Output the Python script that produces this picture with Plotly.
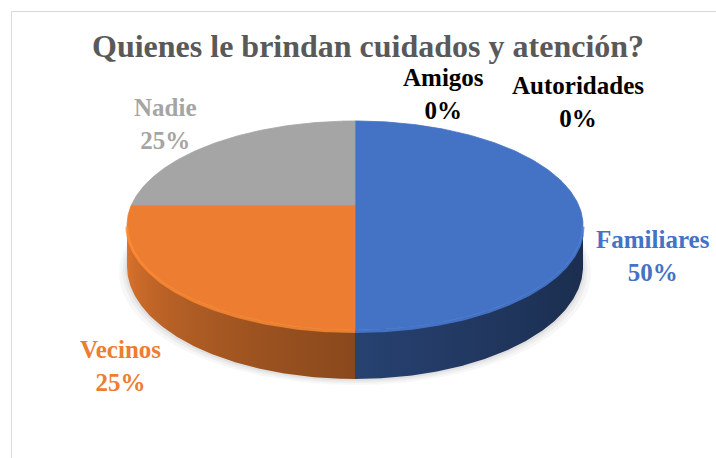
import numpy as np
import plotly.graph_objects as go

# ---------------- data ----------------
categories = ["Familiares", "Vecinos", "Nadie", "Amigos", "Autoridades"]
values = [50, 25, 25, 0, 0]
title_text = "Quienes le brindan cuidados y atención?"

# ---------------- style ----------------
top_colors = ["#4472C4", "#ED7D31", "#A5A5A5", "#FFC000", "#5B9BD5"]
label_colors = ["#4472C4", "#ED7D31", "#A5A5A5", "#000000", "#000000"]
label_pos = [(653, 256), (120, 366), (165, 124), (443, 94), (578, 102)]
FONT = "Liberation Serif, Times New Roman, serif"

W, H = 716, 458
CX, CY = 355, 205          # projected pie centre
A, B, K = 223.6, 100.5, 0.196
T = 49                     # thickness (near side)


def proj(theta, drop=0.0):
    s, c = np.sin(theta), np.cos(theta)
    d = 1 + K * c
    return CX + A * s / d, CY - B * c / d + drop * (1 - K) / d


def hex2rgb(h):
    h = h.lstrip("#")
    return np.array([int(h[i:i + 2], 16) for i in (0, 2, 4)], float)


def shade(h, f):
    r = np.clip(hex2rgb(h) * f, 0, 255).astype(int)
    return "rgb(%d,%d,%d)" % tuple(r)


def light(theta):
    # brightness of the side wall, light coming from the left
    t0, t1 = np.pi * 0.56, np.pi * 1.44
    u = (theta - t0) / (t1 - t0)
    u = np.clip(u, 0, 1)
    return 0.40 + 0.55 * u ** 1.6


fig = go.Figure()

total = float(sum(values))
fracs = [v / total for v in values]
starts = np.concatenate([[0], np.cumsum(fracs)[:-1]]) * 2 * np.pi
ends = np.cumsum(fracs) * 2 * np.pi

# shadow
for i, (sc, al) in enumerate([(1.035, 0.03), (1.02, 0.04), (1.008, 0.05)]):
    th = np.linspace(0, 2 * np.pi, 200)
    xs, ys = proj(th, T)
    xs = CX + (xs - CX) * sc
    ys = ys + 6 - 2 * i
    fig.add_trace(go.Scatter(x=xs, y=ys, fill="toself", mode="lines",
                             line=dict(width=0), fillcolor="rgba(0,0,0,%g)" % al,
                             hoverinfo="skip", showlegend=False))

# side walls (one polygon per slice, horizontal gradient)
vis0, vis1 = np.arccos(-K), 2 * np.pi - np.arccos(-K)
for i, cat in enumerate(categories):
    a0, a1 = max(starts[i], vis0), min(ends[i], vis1)
    if values[i] <= 0 or a1 <= a0:
        continue
    th = np.linspace(a0, a1, 160)
    xt, yt = proj(th)
    xb, yb = proj(th[::-1], T)
    xs = np.concatenate([xt, xb])
    ys = np.concatenate([yt, yb])
    xmin, xmax = xs.min(), xs.max()
    samp = np.linspace(a0, a1, 12)
    sx, _ = proj(samp)
    pos = (sx - xmin) / (xmax - xmin)
    stops = sorted(zip(pos, samp))
    cscale = [[float(np.clip(p, 0, 1)), shade(top_colors[i], light(a))] for p, a in stops]
    cscale[0][0] = 0.0
    cscale[-1][0] = 1.0
    fig.add_trace(go.Scatter(x=xs, y=ys, fill="toself", mode="lines",
                             line=dict(width=0),
                             fillgradient=dict(type="horizontal", colorscale=cscale),
                             hoverinfo="skip", showlegend=False))

# top faces
for i, cat in enumerate(categories):
    if values[i] <= 0:
        continue
    th = np.linspace(starts[i], ends[i], 200)
    xs, ys = proj(th)
    xs = np.concatenate([[CX], xs, [CX]])
    ys = np.concatenate([[CY], ys, [CY]])
    fig.add_trace(go.Scatter(x=xs, y=ys, fill="toself", mode="lines",
                             line=dict(width=0.8, color=top_colors[i]),
                             fillcolor=top_colors[i], name=cat,
                             hoverinfo="skip", showlegend=False))

# bevel highlight on the front rim
for i, cat in enumerate(categories):
    a0, a1 = max(starts[i], vis0), min(ends[i], vis1)
    if values[i] <= 0 or a1 <= a0:
        continue
    th = np.linspace(a0, a1, 120)
    xs, ys = proj(th, 1.5)
    fig.add_trace(go.Scatter(x=xs, y=ys, mode="lines",
                             line=dict(width=3, color=shade(top_colors[i], 1.12)),
                             opacity=0.8, hoverinfo="skip", showlegend=False))

# labels
annotations = [dict(x=368, y=46, xref="x", yref="y", text="<b>%s</b>" % title_text,
                    showarrow=False, font=dict(family=FONT, size=32, color="#595959"))]
for i, cat in enumerate(categories):
    pct = round(100 * values[i] / total)
    annotations.append(dict(x=label_pos[i][0], y=label_pos[i][1], xref="x", yref="y",
                            text="<b>%s</b><br><b>%d%%</b>" % (cat, pct), showarrow=False,
                            align="center",
                            font=dict(family=FONT, size=25, color=label_colors[i])))

fig.update_layout(
    width=W, height=H, autosize=False,
    margin=dict(l=0, r=0, t=0, b=0),
    paper_bgcolor="white", plot_bgcolor="white",
    xaxis=dict(range=[0, W], visible=False, fixedrange=True),
    yaxis=dict(range=[H, 0], visible=False, fixedrange=True),
    annotations=annotations,
    shapes=[dict(type="rect", xref="x", yref="y", x0=11.5, y0=11.5, x1=W + 20, y1=H + 20,
                 line=dict(color="#D9D9D9", width=1), layer="above")],
)

fig.write_html("out.html", config={"displayModeBar": False},
               post_script="document.body.style.margin='0';")
